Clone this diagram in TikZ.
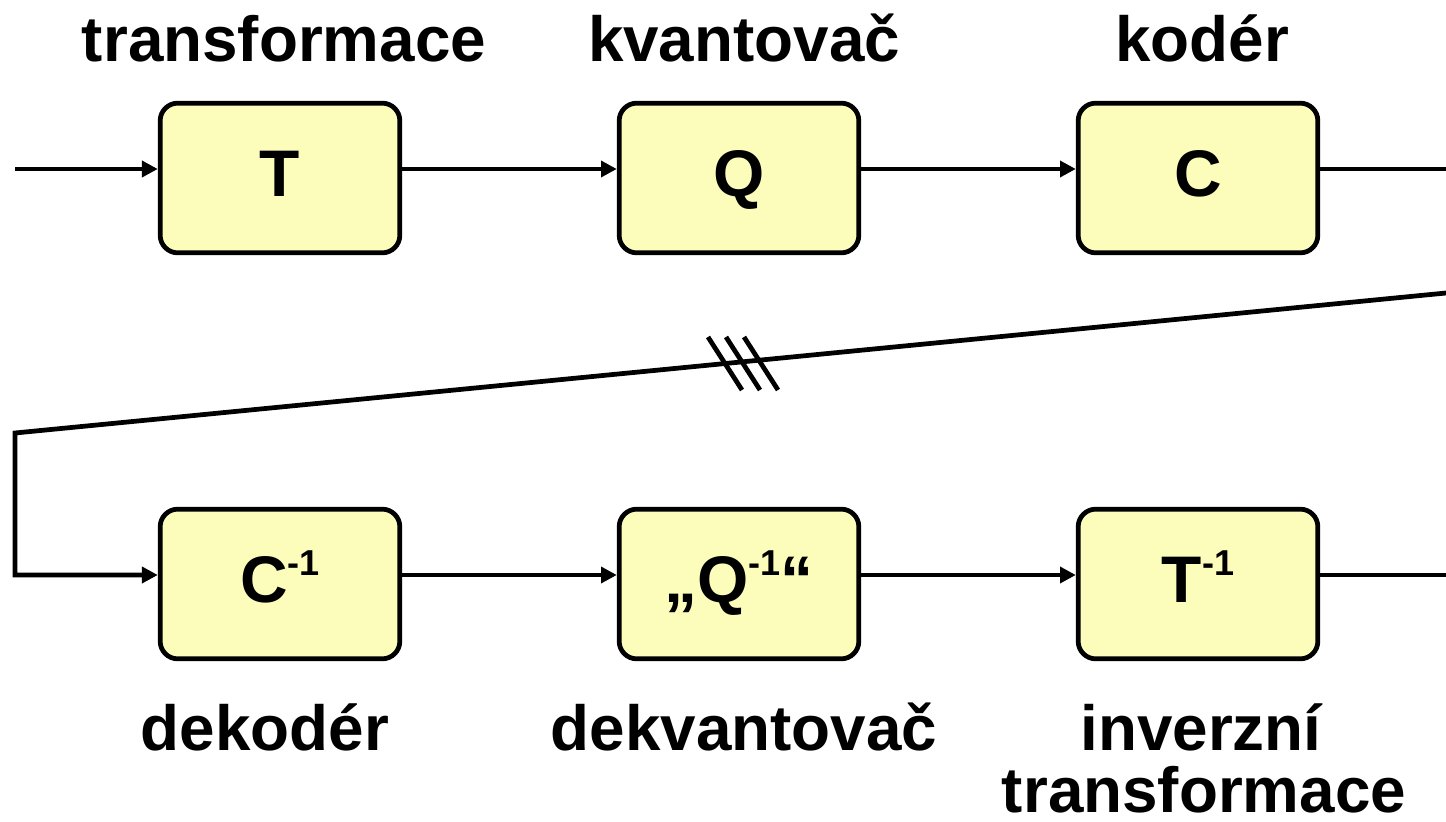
\documentclass[tikz,border=0pt]{standalone}
\usepackage{fontspec}
\setmainfont{Liberation Sans}
\usetikzlibrary{arrows.meta}
\definecolor{boxfill}{RGB}{252,252,187}
\newcommand\invsup{\raisebox{15.4pt}{\fontsize{20.5}{20.5}\selectfont -1}}
\tikzset{
 blk/.style={draw=black, line width=2.7pt, fill=boxfill, rounded corners=10pt,
   minimum width=136.4pt, minimum height=85.2pt, inner sep=0pt,
   font=\fontsize{37.5}{37.5}\selectfont\bfseries, text height=26.7pt, text depth=5.1pt},
 wire/.style={line width=2.7pt},
 arr/.style={wire, -{Triangle[length=9pt,width=9pt]}},
 lbl/.style={anchor=base, font=\fontsize{36.3}{36.3}\selectfont\bfseries, inner sep=0pt},
 slash/.style={line width=2.7pt},
}
\begin{document}
\begin{tikzpicture}[x=0.02cm, y=-0.02cm]
\useasboundingbox (0,0) rectangle (1446,821);
% boxes
\node[blk] (T) at (280,178) {T};
\node[blk] (Q) at (739,178) {Q};
\node[blk] (C) at (1198,178) {C};
\node[blk] (Ci) at (280,584) {C\invsup};
\node[blk] (Qi) at (739,584) {„Q\invsup“};
\node[blk] (Ti) at (1198,584) {T\invsup};
% labels
\node[lbl] (lT) at (284,62) {transformace};
\node[lbl] (lQ) at (744,62) {kvantovač};
\node[lbl] (lC) at (1202,62) {kodér};
\node[lbl] (lCi) at (265,750) {dekodér};
\node[lbl] (lQi) at (744,750) {dekvantovač};
\node[lbl] (lTi1) at (1201,750) {inverzní};
\node[lbl] (lTi2) at (1204,812) {transformace};
% top row
\coordinate (in) at (15,169);
\coordinate (out1) at (1446,169);
\draw[arr] (in) -- (in -| T.west);
\draw[arr] (T.east |- in) -- (in -| Q.west);
\draw[arr] (Q.east |- in) -- (in -| C.west);
\draw[wire] (C.east |- out1) -- (out1);
% channel
\coordinate (d1) at (1446,293);
\coordinate (d2) at (15,433);
\coordinate (d3) at (15,575);
\draw[arr, line join=miter] (d1) -- (d2) -- (d3) -- (d3 -| Ci.west);
% bottom row
\coordinate (out2) at (1446,575);
\draw[arr] (Ci.east |- d3) -- (d3 -| Qi.west);
\draw[arr] (Qi.east |- d3) -- (d3 -| Ti.west);
\draw[wire] (Ti.east |- out2) -- (out2);
% triple slash
\draw[slash] (708,337) -- (742,390);
\draw[slash] (726,337) -- (760,390);
\draw[slash] (744,337) -- (778,390);
\end{tikzpicture}
\end{document}
